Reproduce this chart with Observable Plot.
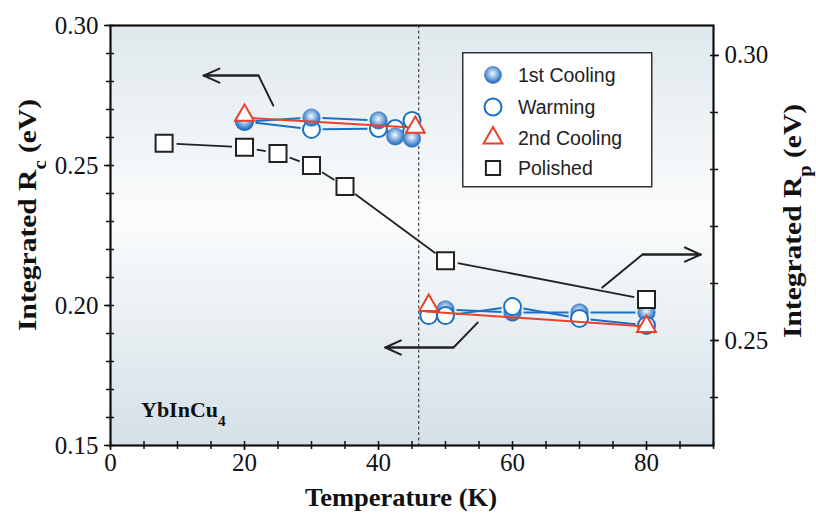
<!DOCTYPE html>
<html><head><meta charset="utf-8">
<script src="https://cdn.jsdelivr.net/npm/d3@7"></script>
<script src="https://cdn.jsdelivr.net/npm/@observablehq/plot@0.6"></script>
<style>
body{margin:0;background:#fff;}
#wrap{position:relative;width:816px;height:515px;overflow:hidden;}
#legend{position:absolute;left:462px;top:52px;}
</style></head><body><div id="wrap"></div>
<script>
// ---------- data ----------
const transitionT = 46;
const firstCoolingT  = [20, 30, 40, 42.5, 45, 50, 60, 70, 80];
const firstCoolingRc = [0.2657, 0.2671, 0.2661, 0.2604, 0.2596, 0.1986, 0.1975, 0.1975, 0.1975];
const warmingT  = [20, 30, 40, 42.5, 45, 47.5, 50, 60, 70, 80];
const warmingRc = [0.2657, 0.2629, 0.2632, 0.2632, 0.2661, 0.1964, 0.1964, 0.1996, 0.1954, 0.1929];
const secondCoolingT  = [20, 45.5, 47.5, 80];
const secondCoolingRc = [0.2679, 0.2636, 0.2000, 0.1925];
const secondFitT  = [[20, 45], [47, 80]];
const secondFitRc = [[0.2671, 0.2636], [0.1979, 0.1925]];
const polishedT  = [8, 20, 25, 30, 35, 50, 80];
const polishedRp = [0.2846, 0.2839, 0.2828, 0.2807, 0.2770, 0.2640, 0.2572];
// right-axis (Rp) alignment with left axis (Rc)
const rpRef = [0.25, 0.30];
const rcRef = [0.1875, 0.2893];
// annotation arrows (data coordinates)
const arrowT  = [[24.3, 22.1, 13.9], [54.8, 51.2, 41.0], [73.4, 79.4, 88.1]];
const arrowRc = [[0.2714, 0.2821, 0.2821], [0.1939, 0.1850, 0.1850], [0.2064, 0.2182, 0.2182]];
// ticks
const xMajor = [0, 20, 40, 60, 80];
const xMinor = d3.range(0, 91, 5);
const yMajor = [0.15, 0.20, 0.25, 0.30];
const yMinor = d3.range(15, 31).map(d => d / 100);
const rpMajor = [0.25, 0.30];
const rpMinor = [0.24, 0.25, 0.26, 0.27, 0.28, 0.29, 0.30];
const legendLabels = ["1st Cooling", "Warming", "2nd Cooling", "Polished"];

// ---------- helpers ----------
const k = (rcRef[1] - rcRef[0]) / (rpRef[1] - rpRef[0]);
const toLeft = r => rcRef[0] + (r - rpRef[0]) * k;
const toRight = c => rpRef[0] + (c - rcRef[0]) / k;
const pts = (T, V) => T.map((t, i) => ({t, v: V[i]}));
function segments(T, V, split) {
  const out = [];
  for (let i = 1; i < T.length; i++) {
    if (split && ((T[i - 1] < transitionT) !== (T[i] < transitionT))) continue;
    out.push({x1: T[i - 1], y1: V[i - 1], x2: T[i], y2: V[i]});
  }
  return out;
}
const cooling = pts(firstCoolingT, firstCoolingRc);
const warming = pts(warmingT, warmingRc);
const second = pts(secondCoolingT, secondCoolingRc);
const polished = pts(polishedT, polishedRp.map(toLeft));
const fitLines = secondFitT.flatMap((T, j) => T.map((t, i) => ({t, v: secondFitRc[j][i], z: j})));
const blueSegs = [...segments(firstCoolingT, firstCoolingRc, true), ...segments(warmingT, warmingRc, true)];
const polSegs = segments(polishedT, polishedRp.map(toLeft), false);
const annLines = arrowT.flatMap((T, j) => T.map((t, i) => ({t, v: arrowRc[j][i], z: j})));
const annHeads = arrowT.map((T, j) => ({x1: T[1], y1: arrowRc[j][1], x2: T[2], y2: arrowRc[j][2]}));

const BLUE = "#1a70c2", RED = "#e8412c", INK = "#222";
const SERIF = "'Times New Roman', 'Liberation Serif', Times, serif";
const fmt = d3.format(".2f");

const plot = Plot.plot({
  width: 816, height: 515,
  marginLeft: 110, marginRight: 103, marginTop: 25, marginBottom: 70,
  x: {domain: [0, 90]},
  y: {domain: [0.15, 0.30]},
  style: {fontFamily: SERIF, fontSize: "25px", color: "#111", background: "transparent", overflow: "visible"},
  marks: [
    Plot.frame({fill: "url(#bg)"}),
    Plot.ruleX([transitionT], {stroke: "#444", strokeWidth: 1.2, strokeDasharray: "3,2.5"}),
    Plot.arrow(polSegs, {x1: "x1", y1: "y1", x2: "x2", y2: "y2", stroke: INK, strokeWidth: 1.8, headLength: 0, inset: 12.5, strokeLinecap: "butt"}),
    Plot.arrow(blueSegs, {x1: "x1", y1: "y1", x2: "x2", y2: "y2", stroke: BLUE, strokeWidth: 2, headLength: 0, inset: 11, strokeLinecap: "butt"}),
    Plot.line(annLines, {x: "t", y: "v", z: "z", stroke: INK, strokeWidth: 2}),
    Plot.arrow(annHeads, {x1: "x1", y1: "y1", x2: "x2", y2: "y2", stroke: INK, strokeWidth: 2, headLength: 13, headAngle: 48}),
    Plot.dot(warming.filter(d => d.t < transitionT), {x: "t", y: "v", r: 8.5, stroke: BLUE, strokeWidth: 2, fill: "white"}),
    Plot.dot(cooling, {x: "t", y: "v", r: 8.7, fill: "url(#ball)", stroke: "#2a6cb8", strokeWidth: 0.6}),
    Plot.dot(warming.filter(d => d.t >= transitionT), {x: "t", y: "v", r: 8.5, stroke: BLUE, strokeWidth: 2, fill: "white"}),
    Plot.line(fitLines, {x: "t", y: "v", z: "z", stroke: RED, strokeWidth: 2}),
    Plot.dot(second, {x: "t", y: "v", symbol: "triangle", r: 7, stroke: RED, strokeWidth: 2, fill: "white"}),
    Plot.dot(polished, {x: "t", y: "v", symbol: "square", r: 9.6, stroke: INK, strokeWidth: 2, fill: "white"}),
    // bottom axis
    Plot.axisX({ticks: xMajor, tickSize: 5, tickPadding: 3, tickFormat: d3.format("d"), label: null, strokeWidth: 1.5}),
    Plot.axisX({ticks: xMinor, tickSize: 4, tickFormat: () => "", label: null, strokeWidth: 1.5}),
    Plot.axisX({ticks: xMinor, tickSize: -4, tickFormat: () => "", label: null, strokeWidth: 1.5}),
    // left axis
    Plot.axisY({ticks: yMajor, tickSize: 6, tickPadding: 6, tickFormat: fmt, label: null, strokeWidth: 1.5}),
    Plot.axisY({ticks: yMinor, tickSize: 4, tickFormat: () => "", label: null, strokeWidth: 1.5}),
    Plot.axisY({ticks: yMinor, tickSize: -4, tickFormat: () => "", label: null, strokeWidth: 1.5}),
    // right axis (Rp)
    Plot.axisY({anchor: "right", ticks: rpMajor.map(toLeft), tickSize: 5, tickPadding: 6, tickFormat: d => fmt(toRight(d)), label: null, strokeWidth: 1.5}),
    Plot.axisY({anchor: "right", ticks: rpMinor.map(toLeft), tickSize: 4, tickFormat: () => "", label: null, strokeWidth: 1.5}),
    Plot.axisY({anchor: "right", ticks: rpMinor.map(toLeft), tickSize: -4, tickFormat: () => "", label: null, strokeWidth: 1.5}),
    Plot.frame({stroke: "#111", strokeWidth: 2.2})
  ]
});

const NS = "http://www.w3.org/2000/svg";
const defs = document.createElementNS(NS, "defs");
defs.innerHTML = `
  <linearGradient id="bg" x1="0" y1="0" x2="0" y2="1">
    <stop offset="0" stop-color="#dfe8ec"/>
    <stop offset="0.45" stop-color="#fbfcfd"/>
    <stop offset="1" stop-color="#d4e0e7"/>
  </linearGradient>
  <radialGradient id="ball" cx="0.48" cy="0.42" r="0.6">
    <stop offset="0" stop-color="#f6f9fd"/>
    <stop offset="0.35" stop-color="#a3c4ea"/>
    <stop offset="0.8" stop-color="#3a7ecb"/>
    <stop offset="1" stop-color="#2566b3"/>
  </radialGradient>`;
plot.insertBefore(defs, plot.firstChild);

function addText(parts, attrs) {
  const t = document.createElementNS(NS, "text");
  for (const a in attrs) t.setAttribute(a, attrs[a]);
  for (const [s, sub] of parts) {
    const ts = document.createElementNS(NS, "tspan");
    if (sub) { ts.setAttribute("baseline-shift", "sub"); ts.setAttribute("font-size", "70%"); }
    ts.textContent = s;
    t.appendChild(ts);
  }
  plot.appendChild(t);
}
const serifBold = {"font-family": SERIF, "font-weight": "bold", fill: "#111"};
addText([["Integrated R"], ["c", true], [" (eV)"]], {...serifBold, "font-size": 26, "text-anchor": "middle", transform: "translate(36,215) rotate(-90)", textLength: 232, lengthAdjust: "spacingAndGlyphs"});
addText([["Integrated R"], ["p", true], [" (eV)"]], {...serifBold, "font-size": 26, "text-anchor": "middle", transform: "translate(801,221) rotate(-90)", textLength: 234, lengthAdjust: "spacingAndGlyphs"});
addText([["Temperature (K)"]], {...serifBold, "font-size": 25, "text-anchor": "middle", x: 401, y: 506, textLength: 192, lengthAdjust: "spacingAndGlyphs"});
addText([["YbInCu"], ["4", true]], {...serifBold, "font-size": 22, "text-anchor": "start", x: 141, y: 417});

const wrap = document.getElementById("wrap");
wrap.appendChild(plot);

// legend
const lg = d3.select(wrap).append("svg").attr("id", "legend").attr("width", 192).attr("height", 137);
lg.append("defs").html(`<radialGradient id="ballL" cx="0.48" cy="0.42" r="0.6">
    <stop offset="0" stop-color="#f6f9fd"/><stop offset="0.35" stop-color="#a3c4ea"/>
    <stop offset="0.8" stop-color="#3a7ecb"/><stop offset="1" stop-color="#2566b3"/></radialGradient>`);
lg.append("rect").attr("x", 0.75).attr("y", 0.75).attr("width", 189).attr("height", 134).attr("fill", "white").attr("stroke", "#333").attr("stroke-width", 1.5);
const rowY = [23, 55, 86, 116];
const mx = 31;
lg.append("circle").attr("cx", mx).attr("cy", rowY[0]).attr("r", 8.5).attr("fill", "url(#ballL)").attr("stroke", "#2a6cb8").attr("stroke-width", 0.6);
lg.append("circle").attr("cx", mx).attr("cy", rowY[1]).attr("r", 8.5).attr("fill", "white").attr("stroke", BLUE).attr("stroke-width", 2);
lg.append("path").attr("transform", `translate(${mx},${rowY[2]})`).attr("d", d3.symbol(d3.symbolTriangle, Math.PI * 49)()).attr("fill", "white").attr("stroke", RED).attr("stroke-width", 2);
lg.append("path").attr("transform", `translate(${mx},${rowY[3]})`).attr("d", d3.symbol(d3.symbolSquare, Math.PI * 64)()).attr("fill", "white").attr("stroke", INK).attr("stroke-width", 2);
legendLabels.forEach((s, i) => {
  lg.append("text").attr("x", 56).attr("y", rowY[i]).attr("dy", "0.36em").attr("font-family", "'Liberation Sans',Arial,sans-serif").attr("font-size", 19.5).attr("fill", "#222").text(s);
});
</script></body></html>
